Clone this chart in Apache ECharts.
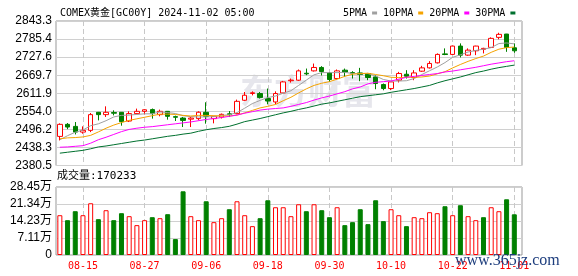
<!DOCTYPE html>
<html><head><meta charset="utf-8">
<script src="https://cdn.jsdelivr.net/npm/echarts@6/dist/echarts.min.js"></script>
<style>html,body{margin:0;padding:0;background:#fff}#c{width:578px;height:276px}</style>
</head><body><div id="c"></div>
<script>
const dates = ['08-12','08-13','08-14','08-15','08-16','08-19','08-20','08-21','08-22','08-23',
'08-26','08-27','08-28','08-29','08-30','09-02','09-03','09-04','09-05','09-06',
'09-09','09-10','09-11','09-12','09-13','09-16','09-17','09-18','09-19','09-20',
'09-23','09-24','09-25','09-26','09-27','09-30','10-01','10-02','10-03','10-04',
'10-07','10-08','10-09','10-10','10-11','10-14','10-15','10-16','10-17','10-18',
'10-21','10-22','10-23','10-24','10-25','10-28','10-29','10-30','10-31','11-01'];
const opens = [2473.7,2512.3,2505.8,2487.5,2493.0,2550.8,2543.4,2550.0,2550.8,2522.9,
2546.7,2554.0,2559.5,2543.4,2554.0,2537.0,2532.5,2529.0,2530.6,2550.8,
2530.6,2535.7,2546.0,2546.7,2589.4,2611.0,2611.0,2595.0,2584.0,2612.9,
2652.0,2653.7,2676.0,2683.6,2694.5,2677.0,2659.0,2685.8,2678.0,2677.0,
2675.2,2664.3,2639.8,2627.0,2653.7,2672.8,2662.3,2682.6,2693.2,2709.3,
2738.0,2736.3,2763.0,2734.0,2747.9,2752.5,2758.8,2790.9,2801.5,2757.5];
const closes = [2512.3,2503.7,2487.5,2493.0,2543.4,2543.4,2550.8,2548.0,2521.0,2546.7,
2554.0,2559.0,2546.7,2554.0,2538.0,2535.0,2525.0,2532.4,2551.0,2538.0,
2538.0,2544.4,2544.0,2586.0,2605.5,2613.5,2598.0,2587.0,2611.0,2648.2,
2654.0,2683.6,2674.0,2694.5,2681.5,2655.9,2683.6,2680.0,2676.0,2672.0,
2662.3,2643.0,2627.0,2648.2,2675.2,2666.5,2677.0,2693.2,2707.3,2736.3,
2736.0,2763.0,2734.0,2750.0,2763.0,2755.6,2787.7,2800.5,2758.8,2747.9];
const lows = [2460.9,2497.0,2480.0,2482.4,2487.5,2525.0,2536.0,2541.0,2508.0,2519.7,
2544.4,2544.0,2530.6,2538.0,2527.4,2523.0,2503.7,2503.7,2525.0,2514.5,
2515.5,2531.0,2535.7,2544.4,2587.0,2605.0,2595.0,2576.5,2576.5,2611.0,
2646.0,2651.4,2669.7,2681.5,2668.8,2648.2,2655.9,2664.0,2659.0,2650.5,
2653.7,2624.8,2621.5,2622.0,2646.4,2659.0,2653.7,2680.4,2691.0,2707.3,
2734.0,2735.0,2726.6,2731.8,2734.0,2739.5,2757.0,2784.5,2744.6,2741.4];
const highs = [2515.5,2516.5,2519.7,2505.8,2548.6,2552.0,2570.0,2557.3,2551.5,2554.0,
2562.7,2560.5,2563.0,2559.5,2555.0,2540.2,2536.0,2535.7,2554.0,2583.0,
2539.0,2547.0,2555.0,2591.5,2616.0,2618.0,2616.0,2627.0,2618.0,2651.4,
2659.0,2688.0,2691.0,2707.0,2698.7,2680.0,2688.0,2691.0,2682.6,2693.2,
2677.0,2669.7,2643.0,2649.0,2680.4,2685.8,2685.8,2699.7,2714.7,2739.5,
2755.6,2764.0,2771.6,2755.6,2764.0,2757.5,2790.9,2805.7,2802.0,2771.6];
const ma5 = [2463,2476,2487,2494,2508,2514,2524,2536,2541,2542,
2544,2546,2546,2552,2550,2547,2540,2537,2536,2536,
2537,2541,2543,2550,2564,2579,2589,2598,2603,2612,
2620,2637,2654,2671,2678,2678,2678,2679,2675,2674,
2675,2667,2656,2651,2651,2652,2659,2672,2684,2696,
2710,2727,2735,2744,2749,2753,2758,2771,2773,2770];
const ma10 = [2466,2469,2470,2472,2477,2488,2500,2510,2518,2525,
2530,2535,2540,2545,2545,2544,2541,2539,2541,2541,
2540,2539,2539,2542,2549,2557,2565,2570,2576,2588,
2599,2613,2626,2637,2644,2649,2657,2666,2673,2675,
2676,2672,2668,2663,2662,2663,2663,2664,2667,2674,
2681,2693,2704,2714,2723,2731,2743,2753,2758,2760];
const ma20 = [2439,2440,2442,2444,2452,2463,2471,2480,2489,2496,
2500,2503,2505,2508,2511,2514,2517,2520,2524,2528,
2531,2534,2538,2542,2548,2553,2558,2561,2563,2565,
2570,2576,2582,2590,2597,2603,2610,2617,2626,2632,
2642,2647,2649,2651,2657,2663,2666,2669,2672,2675,
2680,2683,2687,2691,2695,2700,2705,2709,2713,2716];
const ma30 = [2420,2423,2426,2429,2434,2440,2443,2447,2451,2455,
2459,2462,2466,2470,2474,2477,2481,2484,2490,2495,
2499,2502,2506,2513,2521,2526,2531,2537,2543,2549,
2554,2560,2565,2571,2577,2581,2586,2591,2596,2601,
2604,2607,2610,2615,2619,2623,2627,2632,2637,2645,
2652,2658,2664,2671,2678,2683,2689,2694,2698,2702];
const volumes = [166500,145700,183200,166500,216500,149900,187400,145700,174900,162400,
124900,145700,158200,154000,170700,66600,266500,162400,145700,224800,
137400,154000,191500,224800,166500,120700,154000,229000,199800,199800,
162400,212300,183200,212300,187400,158200,199800,124900,137400,191500,
129100,229000,141600,191500,166500,120700,158200,154000,179000,174900,
204000,166500,208200,162400,145700,158200,199800,183200,233100,170233];
const volumeUp = [1,0,0,1,1,0,1,0,0,1, 1,1,0,1,0,0,0,1,1,0, 1,1,0,1,1,1,0,0,1,1,
1,1,0,1,0,0,1,0,0,0, 0,0,0,1,1,0,1,1,1,1, 0,1,0,1,1,0,1,1,0,0];
const priceTickLabels = ['2380.5','2438.3','2496.2','2554.0','2611.9','2669.7','2727.6','2785.4','2843.3'];
const volumeTickLabels = ['0','7.11万','14.23万','21.34万','28.45万'];
const dateLabelIndexes = [3,11,19,27,35,43,51,59];
const priceMin = 2380.5, priceMax = 2843.3, priceStep = 57.85;
const volMax = 284500, volStep = 71125;

const mono = '"DejaVu Sans Mono", "Noto Sans CJK SC", monospace';
const sans = '"Liberation Sans", Arial, "Noto Sans CJK SC", sans-serif';

const chart = echarts.init(document.getElementById('c'), null, {renderer: 'canvas'});
const candleData = dates.map((d, i) => [i, opens[i], closes[i], lows[i], highs[i]]);
const volData = volumes.map((v, i) => ({
  value: [i, v],
  itemStyle: volumeUp[i] ? {color: '#ffffff', borderColor: '#ff0000', borderWidth: 1}
                         : {color: '#008000', borderColor: '#008000', borderWidth: 1}
}));
const toXY = arr => arr.map((v, i) => [i, v]);
const lineS = (name, arr, color) => ({
  name, type: 'line', xAxisIndex: 0, yAxisIndex: 0, data: toXY(arr),
  showSymbol: false, symbol: 'none', color: color,
  lineStyle: {width: 1, color: color}, itemStyle: {color: color}, z: 3
});
const xCommon = {
  type: 'value', min: -0.5, max: 60,
  axisLine: {show: false},
  axisTick: {show: false, customValues: dateLabelIndexes},
  splitLine: {show: true, lineStyle: {color: '#c8c8c8', type: [5, 3], width: 1}}
};

chart.setOption({
  animation: false,
  backgroundColor: '#ffffff',
  title: {
    text: 'COMEX黄金[GC00Y] 2024-11-02 05:00', left: 55, top: 3,
    textStyle: {fontFamily: mono, fontSize: 10, fontWeight: 'normal', color: '#000'}
  },
  legend: {
    left: 338, top: 3, align: 'right', itemWidth: 5, itemHeight: 3, itemGap: 6,
    textStyle: {fontFamily: mono, fontSize: 10, color: '#000'},
    data: [{name: '5PMA', icon: 'rect'}, {name: '10PMA', icon: 'rect'},
           {name: '20PMA', icon: 'rect'}, {name: '30PMA', icon: 'rect'}]
  },
  grid: [
    {left: 56, top: 21, width: 466, height: 144.5, show: true, borderColor: '#999', borderWidth: 1},
    {left: 56, top: 187, width: 466, height: 68, show: true, borderColor: '#999', borderWidth: 1}
  ],
  xAxis: [
    Object.assign({gridIndex: 0, axisLabel: {show: false, customValues: dateLabelIndexes}}, xCommon),
    Object.assign({gridIndex: 1, axisLabel: {show: true, customValues: dateLabelIndexes,
      formatter: v => dates[Math.round(v)], color: '#ff0000', fontSize: 10, fontFamily: mono, margin: 6}}, xCommon)
  ],
  yAxis: [
    {type: 'value', gridIndex: 0, min: priceMin, max: priceMax, interval: priceStep,
     axisLine: {show: false}, axisTick: {show: false},
     axisLabel: {formatter: v => priceTickLabels[Math.round((v - priceMin) / priceStep)],
       color: '#000', fontSize: 12, fontFamily: sans, margin: 4},
     splitLine: {lineStyle: {color: '#d0d0d0', width: 1}}},
    {type: 'value', gridIndex: 1, min: 0, max: volMax, interval: volStep,
     axisLine: {show: false}, axisTick: {show: false},
     axisLabel: {formatter: v => volumeTickLabels[Math.round(v / volStep)],
       color: '#000', fontSize: 12, fontFamily: sans, margin: 4},
     splitLine: {lineStyle: {color: '#d0d0d0', width: 1}}}
  ],
  graphic: [
    {type: 'text', x: 240, y: 74, z: 0, silent: true,
     style: {text: '东方财富', font: 'bold 34px "Noto Sans CJK SC"', fill: 'rgba(200,200,212,0.45)'}},
    {type: 'text', x: 57, y: 171, z: 10,
     style: {text: '成交量:170233', font: '11px ' + mono, fill: '#000'}},
    {type: 'text', x: 455, y: 253, z: 100,
     style: {text: 'www.365jz.com', font: '16px "Liberation Serif", "DejaVu Serif", serif', fill: '#1d3d7d'}}
  ],
  series: [
    {type: 'candlestick', name: 'K', xAxisIndex: 0, yAxisIndex: 0, data: candleData,
     encode: {x: 0, y: [1, 2, 3, 4]}, barWidth: 5,
     itemStyle: {color: '#ffffff', color0: '#008000', borderColor: '#ff0000', borderColor0: '#008000', borderWidth: 1}},
    lineS('5PMA', ma5, '#a0a0a0'),
    lineS('10PMA', ma10, '#f5a300'),
    lineS('20PMA', ma20, '#ff00ff'),
    lineS('30PMA', ma30, '#00702e'),
    {type: 'bar', name: 'VOL', xAxisIndex: 1, yAxisIndex: 1, data: volData, barWidth: 5}
  ]
});
</script></body></html>
